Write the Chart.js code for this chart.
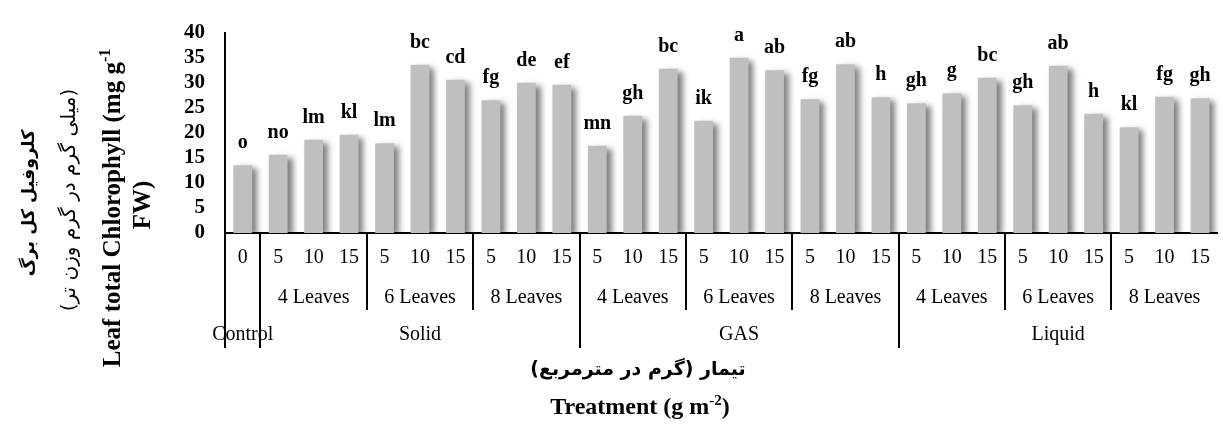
<!DOCTYPE html>
<html><head><meta charset="utf-8">
<script src="https://cdn.jsdelivr.net/npm/chart.js@4.4.0/dist/chart.umd.min.js"></script>
<style>html,body{margin:0;padding:0;background:#fff;}#wrap{width:1223px;height:427px;}</style>
</head><body><div id="wrap"><canvas id="c" width="1223" height="427"></canvas></div>
<script>
const doseLabels = ['0','5','10','15','5','10','15','5','10','15','5','10','15','5','10','15','5','10','15','5','10','15','5','10','15','5','10','15'];
const chlorophyll = [13.5,15.6,18.6,19.6,17.9,33.6,30.6,26.5,30.0,29.6,17.4,23.4,32.8,22.4,35.0,32.5,26.7,33.7,27.1,25.9,27.9,31.0,25.5,33.4,23.8,21.1,27.2,26.9];
const letters = ['o','no','lm','kl','lm','bc','cd','fg','de','ef','mn','gh','bc','ik','a','ab','fg','ab','h','gh','g','bc','gh','ab','h','kl','fg','gh'];
const leafStage = ['','4 Leaves','4 Leaves','4 Leaves','6 Leaves','6 Leaves','6 Leaves','8 Leaves','8 Leaves','8 Leaves','4 Leaves','4 Leaves','4 Leaves','6 Leaves','6 Leaves','6 Leaves','8 Leaves','8 Leaves','8 Leaves','4 Leaves','4 Leaves','4 Leaves','6 Leaves','6 Leaves','6 Leaves','8 Leaves','8 Leaves','8 Leaves'];
const method = ['Control','Solid','Solid','Solid','Solid','Solid','Solid','Solid','Solid','Solid','GAS','GAS','GAS','GAS','GAS','GAS','GAS','GAS','GAS','Liquid','Liquid','Liquid','Liquid','Liquid','Liquid','Liquid','Liquid','Liquid'];
const yTicksMin = 0, yTicksMax = 40, yTickStep = 5;
const yTitleFa1 = 'کلروفیل کل برگ';
const yTitleFa2 = '(میلی گرم در گرم وزن تر)';
const yTitleEn = 'Leaf total Chlorophyll (mg g';
const yTitleEnSup = '-1';
const yTitleEn2 = 'FW)';
const xTitleFa = 'تیمار (گرم در مترمربع)';
const xTitleEn = 'Treatment (g m';
const xTitleEnSup = '-2';
const xTitleEnEnd = ')';

const SERIF = "'Liberation Serif', 'Times New Roman', serif";
const FA = "'DejaVu Sans', sans-serif";

function spans(keys){
  const out=[]; let s=0;
  for(let i=1;i<=keys.length;i++){
    if(i===keys.length||keys[i]!==keys[s]){ out.push({start:s,end:i-1,key:keys[s]}); s=i; }
  }
  return out;
}

const shadowPlugin = {
  id:'shadow',
  beforeDatasetDraw(chart){ const c=chart.ctx; c.save(); c.shadowColor='rgba(0,0,0,0.5)'; c.shadowBlur=6; c.shadowOffsetX=5; c.shadowOffsetY=3; },
  afterDatasetDraw(chart){ chart.ctx.restore(); }
};

const decoPlugin = {
  id:'deco',
  afterDraw(chart){
    const ctx=chart.ctx, x=chart.scales.x, area=chart.chartArea;
    const half=(x.getPixelForValue(1)-x.getPixelForValue(0))/2;
    const b=i=>x.getPixelForValue(i)-half;
    const yTop=area.bottom;
    const meta=chart.getDatasetMeta(0);
    ctx.save();
    ctx.fillStyle='#000'; ctx.font='bold 20px '+SERIF; ctx.textAlign='center'; ctx.textBaseline='alphabetic';
    meta.data.forEach((el,i)=>{ ctx.fillText(letters[i], el.x, el.y-17); });
    ctx.restore();
    ctx.save(); ctx.strokeStyle='#000'; ctx.lineWidth=2;
    const mSpans=spans(method);
    const longX=new Set();
    mSpans.forEach(s=>{ const px=Math.round(b(s.start)); longX.add(s.start);
      ctx.beginPath(); ctx.moveTo(px,yTop); ctx.lineTo(px,348); ctx.stroke(); });
    const lSpans=spans(method.map((m,i)=>m+'|'+leafStage[i]));
    lSpans.forEach(s=>{ if(longX.has(s.start)) return; const px=Math.round(b(s.start));
      ctx.beginPath(); ctx.moveTo(px,yTop); ctx.lineTo(px,310); ctx.stroke(); });
    ctx.restore();
    ctx.save(); ctx.fillStyle='#000'; ctx.font='20px '+SERIF; ctx.textAlign='center'; ctx.textBaseline='middle';
    lSpans.forEach(s=>{ const lab=leafStage[s.start]; if(!lab) return; const cx=(b(s.start)+b(s.end+1))/2; ctx.fillText(lab,cx,298); });
    mSpans.forEach(s=>{ const cx=(b(s.start)+b(s.end+1))/2; ctx.fillText(s.key,cx,335); });
    ctx.restore();
    // x titles
    ctx.save(); ctx.fillStyle='#000';
    ctx.font='bold 19px '+FA; ctx.textAlign='center'; ctx.textBaseline='middle'; ctx.direction='rtl';
    ctx.fillText(xTitleFa,638,370);
    ctx.direction='ltr';
    const fMain='bold 24px '+SERIF, fSup='bold 15px '+SERIF;
    ctx.font=fMain; const w1=ctx.measureText(xTitleEn).width, w3=ctx.measureText(xTitleEnEnd).width;
    ctx.font=fSup; const w2=ctx.measureText(xTitleEnSup).width;
    let sx=640-(w1+w2+w3)/2; const by=414;
    ctx.textAlign='left'; ctx.textBaseline='alphabetic';
    ctx.font=fMain; ctx.fillText(xTitleEn,sx,by); sx+=w1;
    ctx.font=fSup; ctx.fillText(xTitleEnSup,sx,by-9); sx+=w2;
    ctx.font=fMain; ctx.fillText(xTitleEnEnd,sx,by);
    ctx.restore();
    // y titles (rotated)
    const vText=(text,cx,cy,font,dir)=>{ ctx.save(); ctx.translate(cx,cy); ctx.rotate(-Math.PI/2); ctx.font=font; ctx.fillStyle='#000'; ctx.textAlign='center'; ctx.textBaseline='middle'; ctx.direction=dir||'ltr'; ctx.fillText(text,0,0); ctx.restore(); };
    vText(yTitleFa1,29,203,'bold 17.5px '+FA,'rtl');
    vText(yTitleFa2,70,200,'20px '+FA,'rtl');
    vText(yTitleEn2,144,205,'bold 25px '+SERIF);
    ctx.save(); ctx.translate(112,208); ctx.rotate(-Math.PI/2); ctx.fillStyle='#000';
    const eMain='bold 25px '+SERIF, eSup='bold 16px '+SERIF;
    ctx.font=eMain; const e1=ctx.measureText(yTitleEn).width; ctx.font=eSup; const e2=ctx.measureText(yTitleEnSup).width;
    let ex=-(e1+e2)/2; ctx.textAlign='left'; ctx.textBaseline='alphabetic';
    ctx.font=eMain; ctx.fillText(yTitleEn,ex,8); ctx.font=eSup; ctx.fillText(yTitleEnSup,ex+e1,-2);
    ctx.restore();
  }
};

new Chart(document.getElementById('c'),{
  type:'bar',
  data:{ labels:doseLabels, datasets:[{ data:chlorophyll, backgroundColor:'#bfbfbf', borderWidth:0, categoryPercentage:1, barPercentage:0.53, clip:{left:false,top:false,right:false,bottom:0} }] },
  options:{
    responsive:false, animation:false, devicePixelRatio:1,
    layout:{ padding:{top:21,left:0,right:0,bottom:0} },
    plugins:{ legend:{display:false}, tooltip:{enabled:false}, title:{display:false} },
    scales:{
      x:{ type:'category', offset:true, z:1,
          grid:{display:false, drawTicks:false},
          border:{display:true, color:'#000', width:2},
          ticks:{ color:'#000', font:{family:SERIF, size:20}, padding:13, maxRotation:0, minRotation:0, autoSkip:false },
          afterFit(s){ s.height=194; } },
      y:{ min:yTicksMin, max:yTicksMax,
          grid:{display:false, drawTicks:false},
          border:{display:true, color:'#000', width:2},
          ticks:{ stepSize:yTickStep, autoSkip:false, color:'#000', font:{family:SERIF, size:21, weight:'bold'}, padding:20 },
          afterFit(s){ s.width=225; } }
    }
  },
  plugins:[shadowPlugin, decoPlugin]
});
</script></body></html>
